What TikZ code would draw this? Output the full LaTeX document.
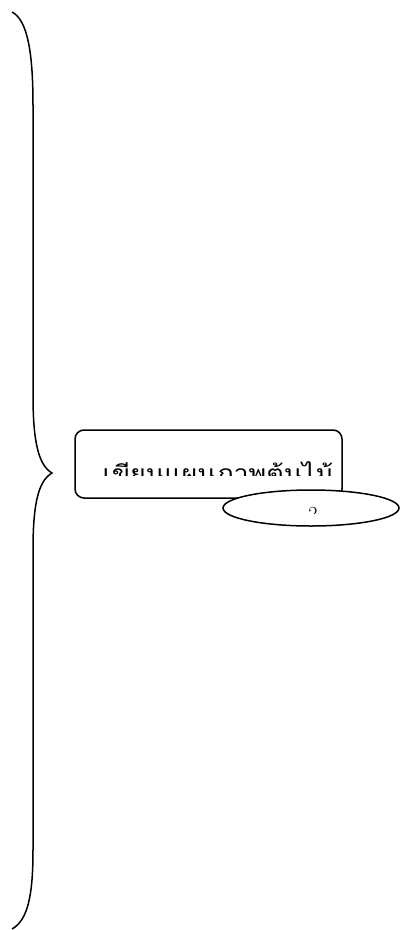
\documentclass[tikz,border=0pt]{standalone}
\usepackage{fontspec}
\newfontfamily\thaifont[Script=Thai]{Loma}
\usetikzlibrary{shapes.geometric}
\tikzset{
  ln/.style={line width=1.5pt, draw=black},
  stepbox/.style={ln, rounded corners=9pt},
  oval/.style={ln, ellipse, fill=white, minimum width=176pt, minimum height=36pt, inner sep=0pt},
  lbl/.style={font=\thaifont\fontsize{21}{25}\selectfont, inner sep=0pt}
}
\begin{document}
\begin{tikzpicture}[x=1pt,y=-1pt]
\useasboundingbox (0,0) rectangle (401,930);
% brace
\coordinate (bt) at (12,12);
\coordinate (tip) at (52,473);
\coordinate (bb) at (12,929);
\draw[ln] (bt) .. controls (28,20) and (33,55) .. (33,105) -- (33,395)
  .. controls (33,440) and (38,465) .. (tip)
  .. controls (38,481) and (33,505) .. (33,550) -- (33,850)
  .. controls (33,895) and (28,920) .. (bb);
% box
\coordinate (b1) at (75,430);
\coordinate (b2) at (342,498);
\draw[stepbox] (b1) rectangle (b2);
\begin{scope}
  \clip (76,440) rectangle (341,475);
  \node[lbl, anchor=base, xscale=1.28] (t) at (218,480) {เขียนแผนภาพต้นไม้};
\end{scope}
% ellipse
\node[oval] (e) at (311,508) {};
\begin{scope}
  \clip (280,500) rectangle (340,513);
  \node[lbl, anchor=base, font=\rmfamily\fontsize{20}{24}\selectfont] (n) at (313,520) {2};
\end{scope}
\end{tikzpicture}
\end{document}
